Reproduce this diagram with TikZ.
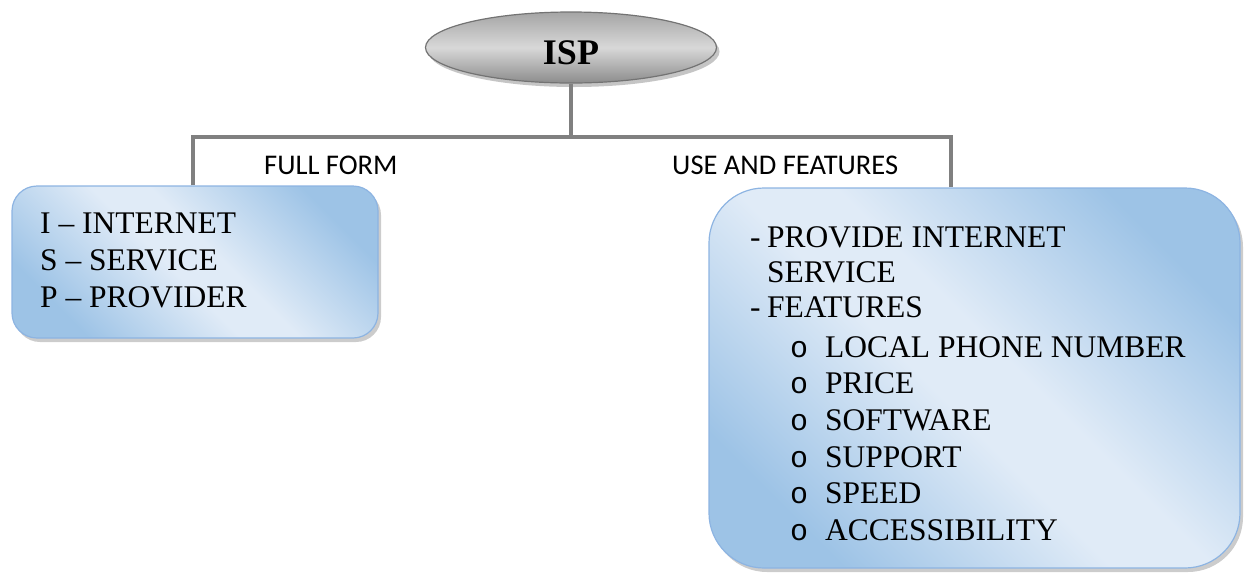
\documentclass[tikz,border=0pt]{standalone}
\usepackage{fontspec}
\setmainfont{Liberation Serif}
\newfontfamily\capfont{Carlito}
\newfontfamily\dotfont{Liberation Mono}
\usetikzlibrary{shapes.geometric,shadows}
\definecolor{boxdark}{RGB}{157,195,230}
\definecolor{boxlight}{RGB}{224,235,247}
\definecolor{boxedge}{RGB}{141,180,226}
\definecolor{linegray}{RGB}{128,128,128}
\definecolor{ovaldark}{RGB}{140,140,140}
\definecolor{ovalmid}{RGB}{165,165,165}
\definecolor{ovallight}{RGB}{216,216,216}
\pgfdeclarehorizontalshading{boxglow}{100bp}{color(0bp)=(boxdark); color(25bp)=(boxdark); color(46bp)=(boxlight); color(54bp)=(boxlight); color(75bp)=(boxdark); color(100bp)=(boxdark)}
\pgfdeclareverticalshading{ovalglow}{100bp}{color(0bp)=(ovaldark); color(25bp)=(ovaldark); color(50bp)=(ovallight); color(75bp)=(ovalmid); color(100bp)=(ovalmid)}
\begin{document}
\begin{tikzpicture}[x=1pt,y=-1pt,
    oval/.style={ellipse, draw=black!55, line width=1.2pt, shade, shading=ovalglow,
      minimum width=291pt, minimum height=71pt, inner sep=0pt,
      drop shadow={shadow xshift=3pt, shadow yshift=-4pt, fill=black!45}},
    panel/.style={rectangle, draw=boxedge, line width=1.2pt, shade, shading=boxglow, shading angle=45,
      drop shadow={shadow xshift=3pt, shadow yshift=-4pt, fill=black!40}},
    branch/.style={draw=linegray, line width=3.5pt},
    entry/.style={anchor=base west, inner sep=0pt, font=\fontsize{31.5}{36}\selectfont},
    heading/.style={anchor=base west, inner sep=0pt, font=\capfont\fontsize{28.5}{34}\selectfont},
    bulletmark/.style={anchor=base west, inner sep=0pt, font=\dotfont\fontsize{30}{36}\selectfont}]
  \useasboundingbox (0,0) rectangle (1248,574);

  % top of the tree
  \node[oval] (isp) at (571,47.5) {};
  \node[inner sep=0pt, font=\bfseries\fontsize{36}{40}\selectfont] (ispname) at (571,52.5) {ISP};

  % the two boxes
  \node[panel, rounded corners=25pt, minimum width=366pt, minimum height=152pt] (fullbox) at (195,262) {};
  \node[panel, rounded corners=55pt, minimum width=531pt, minimum height=380pt] (usebox) at (974.5,378) {};

  % branches
  \coordinate (hub) at (571,137);
  \coordinate (lefttap) at (193,137);
  \coordinate (righttap) at (951,137);
  \draw[branch] (isp.south) -- (hub);
  \draw[branch] (lefttap |- fullbox.north) -- (lefttap) -- (righttap) -- (righttap |- usebox.north);

  \node[heading] (fullhead) at (264,174) {FULL FORM};
  \node[heading] (usehead) at (672,174) {USE AND FEATURES};

  % full form
  \foreach \initial/\word [count=\i from 0] in {I/INTERNET, S/SERVICE, P/PROVIDER}
    \node[entry] (full\i) at (40,233+37*\i) {\initial\ – \word};

  % use and features
  \node[entry] (dash1) at (750,247.5) {-};
  \node[entry] (use1) at (767,247.5) {PROVIDE INTERNET};
  \node[entry] (use2) at (767,282.5) {SERVICE};
  \node[entry] (dash2) at (750,317.5) {-};
  \node[entry] (use3) at (767,317.5) {FEATURES};
  \foreach \feat [count=\i from 0] in {LOCAL PHONE NUMBER, PRICE, SOFTWARE, SUPPORT, SPEED, ACCESSIBILITY} {
    \node[bulletmark] (mark\i) at (790,357+36.7*\i) {o};
    \node[entry] (feat\i) at (825,357+36.7*\i) {\feat};
  }
\end{tikzpicture}
\end{document}
